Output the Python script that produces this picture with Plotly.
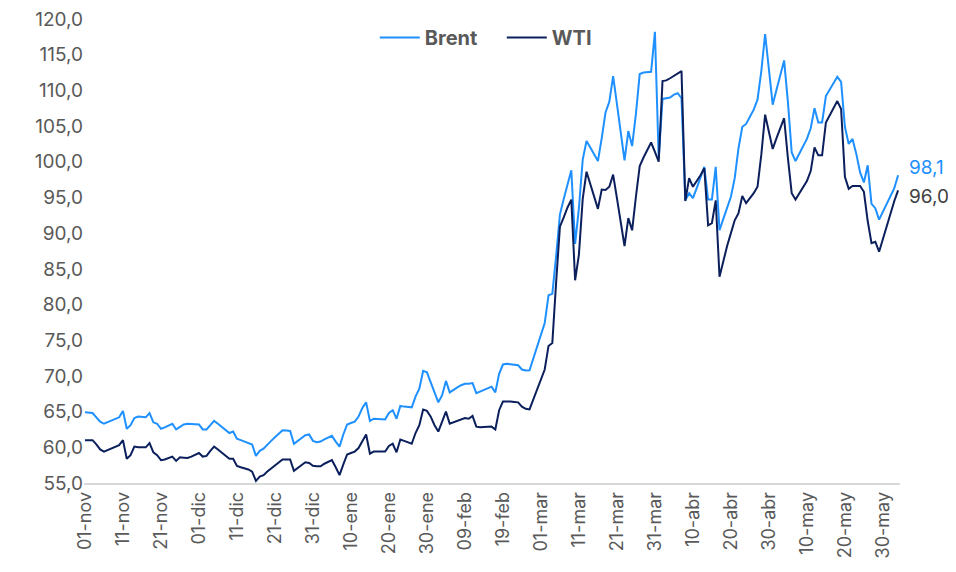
import pandas as pd
import plotly.graph_objects as go

start_date = "2025-11-01"

brent = [
    64.9, 64.85, 64.8, 64.2, 63.6, 63.3, 63.5, 63.7, 63.9, 64.2,
    65.1, 62.6, 63.1, 64.1, 64.3, 64.2, 64.2, 64.8, 63.5, 63.3,
    62.6, 62.8, 63.0, 63.3, 62.5, 62.9, 63.2, 63.3, 63.3, 63.2,
    63.2, 62.5, 62.5, 63.1, 63.7, 63.3, 62.9, 62.4, 62.0, 62.2,
    61.2, 61.0, 60.8, 60.6, 60.4, 58.8, 59.5, 59.8, 60.4, 60.9,
    61.4, 61.9, 62.4, 62.35, 62.3, 60.5, 60.9, 61.2, 61.7, 61.8,
    60.9, 60.7, 60.8, 61.1, 61.4, 61.6, 60.8, 60.1, 61.8, 63.2,
    63.4, 63.6, 64.3, 65.5, 66.3, 63.7, 64.0, 64.0, 63.9, 63.9,
    64.8, 65.2, 64.0, 65.8, 65.7, 65.7, 65.6, 67.1, 68.2, 70.7,
    70.5, 69.1, 67.7, 66.3, 67.3, 69.3, 67.7, 68.1, 68.4, 68.7,
    68.9, 68.9, 69.0, 67.6, 67.8, 68.0, 68.3, 68.5, 67.7, 70.3,
    71.6, 71.7, 71.65, 71.6, 71.5, 70.9, 70.75, 70.8, 72.4, 74.2,
    75.9, 77.4, 81.3, 81.5, 86.8, 92.6, 94.8, 97.0, 98.8, 88.5,
    93.5, 100.3, 102.9, 102.0, 101.0, 100.1, 103.3, 106.9, 108.4, 112.0,
    108.1, 104.2, 100.2, 104.3, 102.2, 106.7, 112.3, 112.5, 112.5, 112.6,
    118.2, 100.5, 108.8, 108.9, 109.0, 109.4, 109.6, 108.9, 94.6, 95.6,
    94.9, 96.3, 97.8, 99.3, 94.7, 94.7, 99.3, 90.4, 92.0, 93.6,
    95.1, 97.7, 101.9, 104.9, 105.3, 106.3, 107.3, 108.7, 112.7, 117.9,
    112.8, 108.0, 110.1, 112.2, 114.2, 108.4, 101.3, 100.1, 101.1, 102.1,
    103.2, 104.7, 107.5, 105.5, 105.5, 109.2, 110.1, 111.0, 111.9, 111.2,
    104.9, 102.5, 103.2, 101.1, 98.5, 97.1, 99.5, 94.1, 93.5, 91.9,
    93.0, 94.0, 95.1, 96.3, 98.1,
]

wti = [
    61.0, 61.0, 61.0, 60.4, 59.7, 59.4, 59.6, 59.8, 60.0, 60.3,
    61.0, 58.4, 58.9, 60.1, 60.0, 60.0, 60.0, 60.6, 59.3, 58.9,
    58.2, 58.3, 58.5, 58.7, 58.1, 58.6, 58.55, 58.5, 58.7, 59.0,
    59.2, 58.7, 58.8, 59.5, 60.1, 59.7, 59.3, 58.8, 58.4, 58.4,
    57.4, 57.2, 57.1, 56.9, 56.6, 55.3, 55.9, 56.1, 56.6, 57.0,
    57.5, 57.9, 58.3, 58.3, 58.3, 56.7, 57.1, 57.5, 57.9, 57.8,
    57.4, 57.35, 57.35, 57.7, 58.0, 58.2, 57.2, 56.1, 57.6, 59.0,
    59.2, 59.4, 59.9, 60.9, 61.8, 59.1, 59.4, 59.4, 59.4, 59.4,
    60.2, 60.5, 59.3, 61.1, 60.9, 60.7, 60.5, 62.0, 63.1, 65.3,
    65.1, 64.3, 63.1, 62.2, 63.6, 65.0, 63.3, 63.5, 63.8, 64.0,
    64.1, 64.0, 64.4, 62.9, 62.8, 62.85, 62.9, 62.9, 62.5, 65.2,
    66.4, 66.45, 66.4, 66.35, 66.3, 65.7, 65.4, 65.3, 66.7, 68.2,
    69.6, 70.9, 74.2, 74.6, 83.1, 90.9, 92.2, 93.6, 94.7, 83.4,
    87.0, 94.8, 98.6, 96.9, 95.2, 93.4, 96.1, 96.05, 96.5, 98.2,
    94.9, 91.5, 88.2, 92.1, 90.4, 95.1, 99.4, 100.6, 101.7, 102.7,
    101.4, 100.0, 111.3, 111.4, 111.7, 112.0, 112.4, 112.7, 94.5, 97.7,
    96.5, 97.3, 98.1, 99.1, 91.1, 91.4, 94.6, 83.9, 86.1, 88.2,
    90.0, 91.8, 92.8, 95.2, 94.2, 94.9, 95.6, 96.5, 101.0, 106.6,
    104.1, 101.8, 103.3, 104.8, 106.1, 100.5, 95.6, 94.7, 95.6, 96.5,
    97.3, 98.7, 102.0, 100.9, 100.9, 105.5, 106.5, 107.5, 108.5, 107.4,
    97.9, 96.2, 96.6, 96.6, 96.6, 95.8, 91.7, 88.6, 88.8, 87.4,
    89.2, 91.0, 92.8, 94.5, 96.0,
]

tick_dates = [
    "2025-11-01", "2025-11-11", "2025-11-21", "2025-12-01", "2025-12-11",
    "2025-12-21", "2025-12-31", "2026-01-10", "2026-01-20", "2026-01-30",
    "2026-02-09", "2026-02-19", "2026-03-01", "2026-03-11", "2026-03-21",
    "2026-03-31", "2026-04-10", "2026-04-20", "2026-04-30", "2026-05-10",
    "2026-05-20", "2026-05-30",
]
tick_labels = [
    "01-nov", "11-nov", "21-nov", "01-dic", "11-dic", "21-dic", "31-dic",
    "10-ene", "20-ene", "30-ene", "09-feb", "19-feb", "01-mar", "11-mar",
    "21-mar", "31-mar", "10-abr", "20-abr", "30-abr", "10-may", "20-may",
    "30-may",
]
y_ticks = [55, 60, 65, 70, 75, 80, 85, 90, 95, 100, 105, 110, 115, 120]

dates = pd.date_range(start_date, periods=len(brent), freq="D")

BRENT_C = "#1E90FF"
WTI_C = "#0B1F5C"
GRAY = "#595959"
FONT = "Inter"

fig = go.Figure()
fig.add_trace(go.Scatter(x=dates, y=brent, mode="lines", name="Brent",
                         line=dict(color=BRENT_C, width=2)))
fig.add_trace(go.Scatter(x=dates, y=wti, mode="lines", name="WTI",
                         line=dict(color=WTI_C, width=2)))

fig.add_annotation(x=dates[-1], y=brent[-1], text=f"{brent[-1]:.1f}".replace(".", ","),
                   showarrow=False, xanchor="left", yanchor="middle",
                   xshift=9, yshift=8, font=dict(family=FONT, size=19, color=BRENT_C))
fig.add_annotation(x=dates[-1], y=wti[-1], text=f"{wti[-1]:.1f}".replace(".", ","),
                   showarrow=False, xanchor="left", yanchor="middle",
                   xshift=9, yshift=-6, font=dict(family=FONT, size=19, color="#404040"))

fig.update_layout(
    width=940, height=556,
    margin=dict(l=76, r=48, t=11, b=81, autoexpand=False),
    paper_bgcolor="white", plot_bgcolor="white",
    separators=",.",
    font=dict(family=FONT, size=18, color=GRAY),
    showlegend=True,
    legend=dict(orientation="h", x=0.512, xanchor="center", y=0.96, yanchor="middle",
                font=dict(family=FONT, size=20, color=GRAY, weight="bold"),
                itemwidth=40, entrywidth=72, entrywidthmode="pixels",
                tracegroupgap=0, bgcolor="rgba(0,0,0,0)"),
)
fig.update_xaxes(
    type="date",
    range=["2025-10-31 18:00", "2026-06-03 12:00"],
    tickmode="array", tickvals=tick_dates, ticktext=tick_labels,
    tickangle=-90, tickfont=dict(family=FONT, size=18, color=GRAY),
    showgrid=False, zeroline=False,
    showline=True, linecolor="#D9D9D9", linewidth=1.5,
    ticks="", automargin=False, ticklabeloverflow="allow",
)
fig.update_yaxes(
    range=[55, 120], tickmode="array", tickvals=y_ticks, tickformat=".1f",
    tickfont=dict(family=FONT, size=19, color=GRAY),
    showgrid=False, zeroline=False, showline=False, ticks="", automargin=False,
    ticklabeloverflow="allow",
)

fig.write_html("out.html")
